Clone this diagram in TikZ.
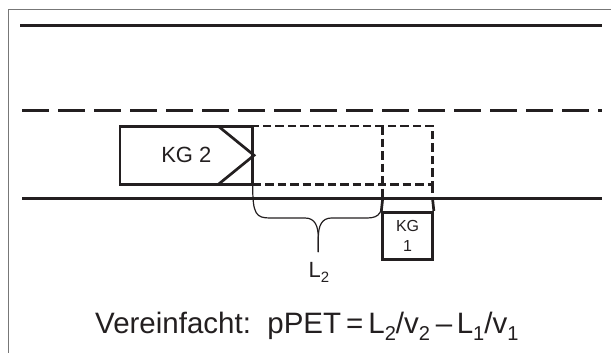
\documentclass[tikz,border=0pt]{standalone}
\usepackage{fontspec}
\setmainfont{Liberation Sans}
\newcommand{\mysub}[1]{\raisebox{-0.25em}{\scalebox{0.68}{#1}}}
\definecolor{ink}{HTML}{231F20}
\definecolor{framegray}{HTML}{777777}
\tikzset{
  road/.style={draw=ink, line width=3pt},
  lanedash/.style={draw=ink, line width=3pt, dash pattern=on 27pt off 9pt},
  carbox/.style={draw=ink, line width=2.7pt, rectangle, inner sep=0pt, text=ink},
  ghost/.style={draw=ink, line width=2.5pt, dash pattern=on 8.5pt off 4pt},
  bracestyle/.style={draw=ink, line width=1.2pt},
  lbl/.style={inner sep=0pt, text=ink}
}
\begin{document}
\begin{tikzpicture}[x=1pt,y=-1pt]
\useasboundingbox (0,0) rectangle (611,353);
% frame
\draw[framegray, line width=1.5pt] (8.5,353) -- (8.5,9.5) -- (611,9.5);
% road lines
\coordinate (t1) at (20,25.7);
\coordinate (t2) at (602,25.7);
\coordinate (m1) at (22,111);
\coordinate (m2) at (602,111);
\coordinate (b1) at (22,198.3);
\coordinate (b2) at (602,198.3);
\draw[road] (t1) -- (t2);
\draw[lanedash] (m1) -- (m2);
\draw[road] (b1) -- (b2);
% ghost (dashed) box
\node[ghost, rectangle, minimum width=180pt, minimum height=58.3pt, inner sep=0pt] (gh) at (342.7,155.3) {};
\coordinate (gv1) at (382.4,126.2);
\coordinate (gv2) at (382.4,198.3);
\coordinate (gr1) at (432.7,184.4);
\coordinate (gr2) at (432.7,198.3);
\draw[ghost] (gv1) -- (gv2);
\draw[ghost] (gr1) -- (gr2);
% KG 2 car
\node[carbox, minimum width=132.7pt, minimum height=58.3pt, font=\fontsize{22}{26}\selectfont] (kg2) at (186.35,155.3) {KG 2};
\coordinate (ch1) at (218.3,126.2);
\coordinate (ch2) at (218.3,184.4);
\draw[ink, line width=2.7pt, line join=miter] (ch1) -- (kg2.east) -- (ch2);
% KG 1 car
\node[carbox, minimum width=49.8pt, minimum height=47pt, align=center, font=\fontsize{16}{19.3}\selectfont] (kg1) at (407.6,235.8) {KG\\1};
\coordinate (k1l) at (382.7,198.3);
\coordinate (k1r) at (432.5,198.3);
\draw[ink, line width=2.7pt] (k1l) -- (kg1.north west);
\draw[ink, line width=2.7pt] (k1r) -- (kg1.north east);
% brace
\coordinate (brL) at (252.7,186);
\coordinate (brR) at (382.7,196);
\coordinate (brT) at (318.3,252);
\draw[bracestyle] (brL) .. controls (252.7,214) and (256,218) .. (270,218) -- (305,218)
  .. controls (315,218) and (318.3,226) .. (318.3,238) -- (brT);
\draw[bracestyle] (brT) -- (318.3,238) .. controls (318.3,226) and (321.6,218) .. (331.6,218)
  -- (367,218) .. controls (380,218) and (382.7,212) .. (brR);
% L2 label
\node[lbl, font=\fontsize{22}{26}\selectfont, anchor=base] (l2) at (319,277) {L\mysub{2}};
% formula
\node[lbl, font=\fontsize{29.5}{34}\selectfont, anchor=base west] (form) at (95,333.3)
  {Vereinfacht:\ \ pPET\hspace{0.17em}=\hspace{0.17em}L\mysub{2}/v\mysub{2}\hspace{0.2em}–\hspace{0.15em}L\mysub{1}/v\mysub{1}};
\end{tikzpicture}
\end{document}
